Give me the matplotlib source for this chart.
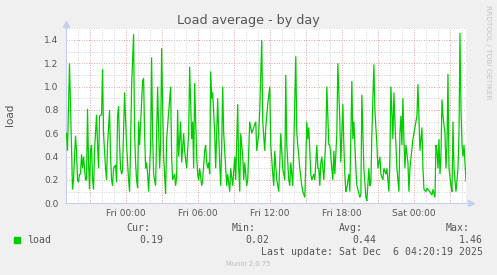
import matplotlib
matplotlib.use("Agg")
import matplotlib.pyplot as plt
from matplotlib.patches import Rectangle
import numpy as np

# ---------------- data ----------------
title = "Load average - by day"
ylabel = "load"
series_name = "load"
start_hour = -5.0          # Thu 19:00, hours relative to Fri 00:00
step_minutes = 5
n_steps = 400              # 5-minute steps shown in the window

steps = [1, 2, 4, 7, 8, 10, 11, 12, 13, 14,
         15, 16, 17, 18, 20, 21, 22, 23, 24, 25,
         26, 27, 28, 29, 31, 32, 33, 34, 36, 37,
         38, 40, 41, 42, 44, 45, 46, 47, 48, 50,
         51, 52, 53, 54, 55, 56, 57, 59, 61, 63,
         64, 65, 66, 68, 69, 70, 71, 72, 73, 74,
         77, 78, 79, 80, 81, 82, 83, 85, 86, 87,
         88, 90, 92, 94, 95, 96, 98, 100, 101, 105,
         106, 107, 109, 110, 111, 112, 113, 115, 116, 118,
         119, 121, 123, 124, 126, 127, 128, 129, 131, 132,
         133, 134, 136, 137, 139, 140, 141, 142, 143, 144,
         145, 146, 147, 149, 150, 152, 153, 154, 155, 156,
         157, 158, 160, 161, 162, 164, 165, 167, 169, 170,
         172, 173, 174, 175, 177, 178, 179, 181, 182, 183,
         184, 186, 188, 190, 191, 193, 194, 196, 197, 199,
         200, 202, 204, 205, 207, 208, 209, 211, 213, 214,
         215, 217, 219, 220, 221, 223, 224, 225, 227, 228,
         230, 231, 232, 234, 236, 237, 239, 240, 241, 242,
         243, 244, 245, 246, 248, 249, 251, 252, 253, 254,
         255, 256, 258, 260, 261, 263, 264, 266, 267, 268,
         269, 271, 272, 274, 275, 277, 278, 279, 280, 281,
         283, 284, 285, 286, 287, 288, 290, 291, 292, 294,
         295, 296, 298, 300, 301, 303, 304, 305, 306, 308,
         309, 311, 312, 314, 315, 317, 318, 320, 321, 323,
         324, 325, 327, 328, 329, 331, 333, 334, 335, 336,
         337, 338, 339, 340, 342, 343, 344, 347, 351, 352,
         354, 356, 357, 358, 360, 361, 364, 366, 367, 369,
         370, 371, 372, 373, 374, 375, 376, 377, 379, 380,
         381, 382, 383, 385, 386, 387, 388, 390, 392, 393,
         394, 395, 396, 397, 398, 400]

load = [0.60, 0.45, 1.20, 0.12, 0.20, 0.58, 0.45, 0.20, 0.18, 0.25,
        0.25, 0.42, 0.30, 0.40, 0.20, 0.20, 0.81, 0.35, 0.12, 0.45,
        0.50, 0.20, 0.12, 0.45, 0.76, 0.50, 0.30, 0.75, 0.76, 1.15,
        0.60, 0.30, 0.20, 0.50, 0.80, 0.40, 0.20, 0.15, 0.30, 0.33,
        0.18, 0.75, 0.83, 0.50, 0.30, 0.25, 0.28, 0.95, 0.50, 0.20,
        0.10, 0.50, 1.00, 1.45, 0.60, 0.35, 0.20, 0.13, 0.70, 0.50,
        1.05, 1.07, 0.60, 0.30, 0.35, 0.25, 0.10, 0.50, 1.25, 0.60,
        0.25, 0.15, 1.00, 0.30, 0.50, 1.33, 0.40, 0.08, 0.55, 1.00,
        0.40, 0.20, 0.25, 0.15, 0.23, 0.80, 0.40, 0.70, 0.35, 0.60,
        0.45, 0.30, 0.60, 1.17, 0.55, 0.70, 0.30, 1.03, 0.40, 0.25,
        0.20, 0.30, 0.15, 0.20, 0.45, 0.50, 0.35, 0.30, 0.35, 0.25,
        1.13, 0.90, 0.95, 0.60, 0.30, 0.90, 0.60, 0.35, 0.15, 0.50,
        1.00, 0.60, 0.30, 0.15, 0.25, 0.10, 0.30, 0.15, 0.40, 0.20,
        0.85, 0.30, 0.10, 0.60, 0.40, 0.20, 0.35, 0.15, 0.20, 0.45,
        0.70, 0.60, 0.65, 0.70, 0.45, 0.60, 0.80, 1.40, 0.70, 0.45,
        0.65, 0.85, 1.00, 0.50, 0.25, 0.15, 0.45, 0.20, 0.10, 0.35,
        0.60, 0.30, 0.20, 1.10, 0.50, 0.20, 0.15, 0.35, 0.15, 0.50,
        1.26, 0.60, 0.50, 0.30, 0.15, 0.10, 0.05, 0.35, 0.70, 0.55,
        0.65, 0.45, 0.25, 0.20, 0.25, 0.20, 0.50, 0.30, 0.30, 0.15,
        0.35, 0.40, 0.20, 0.55, 1.00, 0.50, 0.50, 0.30, 0.20, 0.45,
        0.25, 0.60, 1.20, 0.70, 0.35, 0.85, 0.50, 0.25, 0.10, 0.13,
        0.25, 0.10, 0.60, 1.05, 0.55, 0.70, 0.30, 0.15, 0.12, 0.05,
        0.08, 0.93, 0.30, 0.05, 0.02, 0.30, 0.15, 0.18, 0.60, 1.19,
        0.80, 0.50, 0.30, 0.40, 0.25, 0.20, 0.30, 0.25, 0.30, 0.10,
        0.40, 1.00, 0.55, 0.95, 0.70, 0.30, 0.10, 0.60, 0.75, 0.50,
        0.90, 0.55, 0.30, 0.50, 0.35, 0.10, 0.30, 0.55, 0.75, 1.02,
        0.45, 0.65, 0.30, 0.12, 0.10, 0.13, 0.10, 0.07, 0.12, 0.05,
        0.50, 0.45, 0.30, 0.55, 0.25, 0.40, 0.89, 0.75, 0.60, 0.30,
        0.50, 1.11, 0.30, 0.15, 0.10, 0.70, 0.30, 0.10, 0.30, 0.60,
        1.46, 0.80, 0.50, 0.40, 0.50, 0.19]

xtick_hours = [0, 6, 12, 18, 24]
xtick_labels = ["Fri 00:00", "Fri 06:00", "Fri 12:00", "Fri 18:00", "Sat 00:00"]
yticks = [0.0, 0.2, 0.4, 0.6, 0.8, 1.0, 1.2, 1.4]
ymax = 1.5
stat_headers = ["Cur:", "Min:", "Avg:", "Max:"]
stat_values = ["0.19", "0.02", "0.44", "1.46"]
last_update = "Last update: Sat Dec  6 04:20:19 2025"
version = "Munin 2.0.75"
watermark = "RRDTOOL / TOBI OETIKER"

# ---------------- style ----------------
W, H = 497, 275
BG = "#F0F0F0"
TXT = "#555555"
LINE = "#00CC00"
MINOR = "#D4D4D4"
MAJOR = "#E6A8A8"
AXIS = "#C8CCEE"

hours = start_hour + np.array(steps) * step_minutes / 60.0
end_hour = start_hour + n_steps * step_minutes / 60.0

fig = plt.figure(figsize=(W / 100, H / 100), dpi=100, facecolor=BG)
L, R, T, B = 65.5, 466.0, 28.3, 203.3
ax = fig.add_axes([L / W, 1 - B / H, (R - L) / W, (B - T) / H])
ax.set_facecolor("white")
ax.set_xlim(start_hour, end_hour)
ax.set_ylim(0, ymax)

dots = (0, (1, 1.5))
# horizontal grid
for k in range(1, 16):
    yv = k / 10
    col = MAJOR if k % 2 == 0 else MINOR
    ax.axhline(yv, color=col, lw=0.72, ls=dots, zorder=1)
# vertical grid
for hh in range(int(np.ceil(start_hour)), int(np.floor(end_hour)) + 1):
    col = MAJOR if hh % 3 == 0 else MINOR
    ax.axvline(hh, color=col, lw=0.72, ls=dots, zorder=1)

ax.plot(hours, load, color=LINE, lw=0.9, zorder=3, solid_joinstyle="miter")

for s in ["top", "right"]:
    ax.spines[s].set_visible(False)
for s in ["left", "bottom"]:
    ax.spines[s].set_color(AXIS)
    ax.spines[s].set_linewidth(0.8)

# axis arrows
ax.plot([0], [1.022], marker="^", ms=4, color=AXIS, transform=ax.transAxes,
        clip_on=False, zorder=4)
ax.plot([0, 0], [1.0, 1.02], color=AXIS, lw=0.8, transform=ax.transAxes, clip_on=False)
ax.plot([1.0, 1.01], [0, 0], color=AXIS, lw=0.8, transform=ax.transAxes, clip_on=False)
ax.plot([1.012], [0], marker=">", ms=4, color=AXIS, transform=ax.transAxes,
        clip_on=False, zorder=4)

ax.set_xticks(xtick_hours)
ax.set_xticklabels(xtick_labels)
ax.set_yticks(yticks)
ax.set_yticklabels([f"{v:.1f}" for v in yticks])
ax.tick_params(axis="both", length=0, labelsize=6.5, colors=TXT)
ax.tick_params(axis="x", pad=4)
ax.tick_params(axis="y", pad=5)

fig.text(248 / W, 1 - 24 / H, title, ha="center", va="baseline", fontsize=9.2, color=TXT)
fig.text(10 / W, 1 - 115 / H, ylabel, rotation=90, ha="center", va="center",
         fontsize=7.5, color=TXT)
fig.text(488 / W, 1 - 5 / H, watermark, rotation=270, ha="center", va="top",
         fontsize=5.3, color="#C4C4C4")

# legend
fig.patches.append(Rectangle((14 / W, 1 - 243 / H), 6 / W, 6 / H,
                             transform=fig.transFigure, color=LINE))
mono = dict(family="DejaVu Sans Mono", fontsize=7.1, color=TXT)
fig.text(27 / W, 1 - 240 / H, series_name, ha="left", va="center", **mono)
hdr_x = [150, 256, 363, 470]
val_x = [163, 269, 376, 483]
for hx, vx, h_, v_ in zip(hdr_x, val_x, stat_headers, stat_values):
    fig.text(hx / W, 1 - 228 / H, h_, ha="right", va="center", **mono)
    fig.text(vx / W, 1 - 240 / H, v_, ha="right", va="center", **mono)
fig.text(483 / W, 1 - 252 / H, last_update, ha="right", va="center", **mono)
fig.text(248 / W, 1 - 264 / H, version, ha="center", va="center",
         fontsize=4.9, color="#BBBBBB")

fig.savefig("out.png", dpi=100, facecolor=BG)
